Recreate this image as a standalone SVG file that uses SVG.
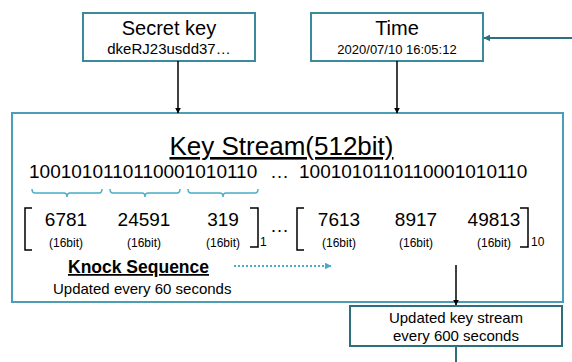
<svg xmlns="http://www.w3.org/2000/svg" width="572" height="362" viewBox="0 0 572 362">
<defs>
<marker id="ah" viewBox="0 0 10 10" refX="9" refY="5" markerWidth="6" markerHeight="6" orient="auto" markerUnits="userSpaceOnUse"><path d="M0,0 L10,5 L0,10 z" fill="#000"/></marker>
<marker id="aht" viewBox="0 0 10 10" refX="9" refY="5" markerWidth="7" markerHeight="7" orient="auto" markerUnits="userSpaceOnUse"><path d="M0,0 L10,5 L0,10 z" fill="#2e6f7e"/></marker>
<marker id="ahb" viewBox="0 0 10 10" refX="9" refY="5" markerWidth="7" markerHeight="7" orient="auto" markerUnits="userSpaceOnUse"><path d="M0,0 L10,5 L0,10 z" fill="#4bacc6"/></marker>
</defs>
<style>
text{font-family:"Liberation Sans",Arial,sans-serif;fill:#000}
.box{fill:#fff;stroke:#3a8a9c;stroke-width:2}
.c{text-anchor:middle}
.n{font-size:19px}
.b{font-size:12px}
.br{fill:none;stroke:#000;stroke-width:1.5}
.brace{fill:none;stroke:#4bacc6;stroke-width:1.5}
</style>
<rect width="572" height="362" fill="#fff"/>
<g id="secret-key">
<rect class="box" x="83" y="13" width="172" height="48"/>
<text class="c" x="169" y="35" font-size="20">Secret key</text>
<text class="c" x="169" y="54" font-size="15">dkeRJ23usdd37…</text>
</g>
<g id="time">
<rect class="box" x="311" y="13" width="172" height="48"/>
<text class="c" x="397" y="35" font-size="20">Time</text>
<text class="c" x="397" y="54" font-size="13">2020/07/10 16:05:12</text>
</g>
<g id="key-stream">
<rect x="12" y="113" width="551" height="189" fill="#fff" stroke="#4a9fb5" stroke-width="2"/>
<text class="c" x="281.5" y="155" font-size="26" text-decoration="underline">Key Stream(512bit)</text>
<text x="29" y="178" font-size="19">1001010110110001010110</text>
<text x="270" y="178" font-size="19">…</text>
<text x="299" y="178" font-size="19">1001010110110001010110</text>
<path class="brace" d="M32,189 Q32,193 35,193 H64 Q67,193 67,197 Q67,193 70,193 H99 Q102,193 102,189"/>
<path class="brace" d="M110,189 Q110,193 113,193 H142 Q145,193 145,197 Q145,193 148,193 H177 Q180,193 180,189"/>
<path class="brace" d="M188,189 Q188,193 191,193 H220 Q223,193 223,197 Q223,193 226,193 H255 Q258,193 258,189"/>
<path class="br" d="M32,208 H25 V250 H32"/>
<path class="br" d="M250,208 H258 V247 H250"/>
<path class="br" d="M304,208 H297 V250 H304"/>
<path class="br" d="M520,208 H528 V247 H520"/>
<text class="c n" x="66" y="226">6781</text>
<text class="c n" x="144" y="226">24591</text>
<text class="c n" x="223" y="226">319</text>
<text class="c n" x="339" y="226">7613</text>
<text class="c n" x="416" y="226">8917</text>
<text class="c n" x="494" y="226">49813</text>
<text class="c b" x="66" y="247">(16bit)</text>
<text class="c b" x="144" y="247">(16bit)</text>
<text class="c b" x="223" y="247">(16bit)</text>
<text class="c b" x="339" y="247">(16bit)</text>
<text class="c b" x="416" y="247">(16bit)</text>
<text class="c b" x="494" y="247">(16bit)</text>
<text class="b" x="260" y="246">1</text>
<text x="270" y="232" font-size="19">…</text>
<text class="b" x="531" y="246">10</text>
<text x="68" y="273" font-size="17.5" font-weight="bold" text-decoration="underline">Knock Sequence</text>
<text x="53" y="294" font-size="15">Updated every 60 seconds</text>
</g>
<g id="updated-key-stream">
<rect x="350" y="306" width="212" height="40" fill="#fff" stroke="#2e6f7e" stroke-width="2"/>
<text class="c" x="456" y="323" font-size="15">Updated key stream</text>
<text class="c" x="456" y="341" font-size="15">every 600 seconds</text>
</g>
<g id="connectors">
<line x1="178" y1="61" x2="178" y2="113" stroke="#000" stroke-width="1.5" marker-end="url(#ah)"/>
<line x1="397" y1="61" x2="397" y2="113" stroke="#000" stroke-width="1.5" marker-end="url(#ah)"/>
<line x1="572" y1="38" x2="484" y2="38" stroke="#2e6f7e" stroke-width="2" marker-end="url(#aht)"/>
<line x1="456" y1="265" x2="456" y2="305" stroke="#000" stroke-width="1.5" marker-end="url(#ah)"/>
<line x1="456" y1="347" x2="456" y2="362" stroke="#2e6f7e" stroke-width="2"/>
<line x1="234" y1="266" x2="331" y2="266" stroke="#4bacc6" stroke-width="2" stroke-dasharray="2,2" marker-end="url(#ahb)"/>
</g>
</svg>
